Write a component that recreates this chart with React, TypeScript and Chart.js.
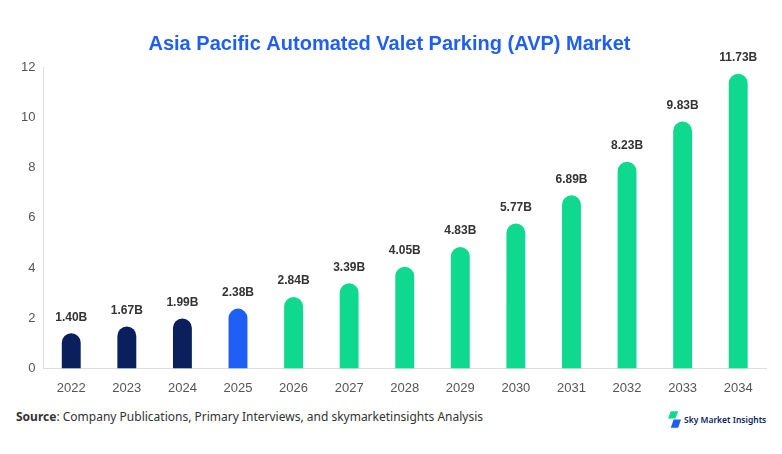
import React, { useEffect, useRef } from 'react';
import { Chart, registerables } from 'chart.js';

Chart.register(...registerables);

const years = ['2022', '2023', '2024', '2025', '2026', '2027', '2028', '2029', '2030', '2031', '2032', '2033', '2034'];
const marketSize = [1.4, 1.67, 1.99, 2.38, 2.84, 3.39, 4.05, 4.83, 5.77, 6.89, 8.23, 9.83, 11.73];
const barColors = [
  '#0a1f5c', '#0a1f5c', '#0a1f5c', '#1f5ff5',
  '#0fd98f', '#0fd98f', '#0fd98f', '#0fd98f', '#0fd98f', '#0fd98f', '#0fd98f', '#0fd98f', '#0fd98f',
];

const valueLabels = {
  id: 'valueLabels',
  afterDatasetsDraw(chart: Chart) {
    const ctx = chart.ctx;
    const meta = chart.getDatasetMeta(0);
    ctx.save();
    ctx.font = 'bold 12px "Liberation Sans", Arial, sans-serif';
    ctx.fillStyle = '#333333';
    ctx.textAlign = 'center';
    ctx.textBaseline = 'bottom';
    meta.data.forEach((bar: any, i: number) => {
      ctx.fillText(marketSize[i].toFixed(2) + 'B', bar.x, bar.y - 10);
    });
    ctx.restore();
  },
};

const BarChart: React.FC = () => {
  const ref = useRef<HTMLCanvasElement>(null);

  useEffect(() => {
    if (!ref.current) return;
    const chart = new Chart(ref.current, {
      type: 'bar',
      data: {
        labels: years,
        datasets: [
          {
            data: marketSize,
            backgroundColor: barColors,
            borderRadius: { topLeft: 10, topRight: 10, bottomLeft: 0, bottomRight: 0 },
            borderSkipped: false,
            barPercentage: 0.34,
            categoryPercentage: 1,
          },
        ],
      },
      options: {
        responsive: false,
        animation: false,
        layout: { padding: { left: 13, right: 16, top: 0, bottom: 0 } },
        plugins: {
          legend: { display: false },
          tooltip: { enabled: false },
          title: {
            display: true,
            text: 'Asia Pacific Automated Valet Parking (AVP) Market',
            color: '#1f5ff5',
            font: { family: '"Liberation Sans", Arial, sans-serif', size: 20, weight: 'bold' },
            padding: { top: 32, bottom: 11 },
          },
        },
        scales: {
          x: {
            grid: { display: false, drawTicks: false },
            border: { color: '#dddddd' },
            ticks: {
              color: '#555555',
              font: { family: '"Liberation Sans", Arial, sans-serif', size: 13 },
              padding: 12,
            },
          },
          y: {
            min: 0,
            max: 12,
            grid: { display: false, drawTicks: false },
            border: { color: '#dddddd' },
            ticks: {
              stepSize: 2,
              color: '#555555',
              font: { family: '"Liberation Sans", Arial, sans-serif', size: 13 },
              padding: 8,
            },
          },
        },
      },
      plugins: [valueLabels],
    });
    return () => chart.destroy();
  }, []);

  return <canvas ref={ref} width={782} height={408} style={{ position: 'absolute', left: 0, top: 0 }} />;
};

const Logo: React.FC = () => (
  <div style={{ position: 'absolute', left: 668, top: 411, display: 'flex', alignItems: 'center' }}>
    <svg width="13" height="17" viewBox="0 0 14 18">
      <polygon points="3,0 11,0 8,8 0,8" fill="#0fd98f" />
      <polygon points="6,9 14,9 11,18 3,18" fill="#1f5ff5" />
    </svg>
    <span
      style={{
        marginLeft: 3,
        fontFamily: '"Noto Sans", sans-serif',
        fontSize: 8.5,
        fontWeight: 600,
        color: '#0a1f5c',
        whiteSpace: 'nowrap',
      }}
    >
      Sky Market Insights
    </span>
  </div>
);

const App: React.FC = () => (
  <div style={{ position: 'absolute', left: 0, top: 0, width: 782, height: 454, background: '#ffffff', overflow: 'hidden' }}>
    <BarChart />
    <div
      style={{
        position: 'absolute',
        left: 16,
        top: 408,
        fontFamily: '"Noto Sans", "Open Sans", sans-serif',
        fontSize: 12,
        color: '#333333',
        whiteSpace: 'nowrap',
      }}
    >
      <b>Source</b>: Company Publications, Primary Interviews, and skymarketinsights Analysis
    </div>
    <Logo />
  </div>
);

export default App;
